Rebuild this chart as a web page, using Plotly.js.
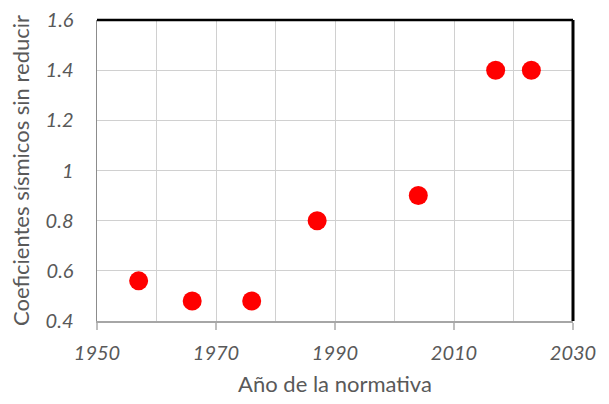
<!DOCTYPE html>
<html><head><meta charset="utf-8">
<script src="https://cdn.plot.ly/plotly-3.0.1.min.js"></script>
<style>html,body{margin:0;padding:0;background:#fff}</style>
</head><body><div id="chart" style="width:609px;height:404px"></div>
<script>
const years = [1957, 1966, 1976, 1987, 2004, 2017, 2023];
const coef = [0.56, 0.48, 0.48, 0.80, 0.90, 1.40, 1.40];
const xTickVals = [1950, 1970, 1990, 2010, 2030];
const xGridVals = [1960, 1980, 2000, 2020];
const yTickVals = [0.4, 0.6, 0.8, 1, 1.2, 1.4, 1.6];
const yTickText = ['0.4', '0.6', '0.8', '1', '1.2', '1.4', '1.6'];
const xTitle = 'Año de la normativa';
const yTitle = 'Coeficientes sísmicos sin reducir';

const fontFam = 'Lato, "Open Sans", sans-serif';
const gray = '#595959';

Plotly.newPlot('chart', [{
  x: years, y: coef, type: 'scatter', mode: 'markers',
  marker: {color: '#ff0000', size: 19}
}], {
  width: 609, height: 404,
  margin: {l: 97, r: 36, t: 20, b: 83},
  paper_bgcolor: '#fff', plot_bgcolor: '#fff',
  showlegend: false,
  font: {family: fontFam, color: gray},
  xaxis: {
    range: [1950, 2030], tickvals: xTickVals, ticktext: xTickVals.map(String),
    tickfont: {family: fontFam, size: 20, color: gray, style: 'italic'},
    showgrid: true, gridcolor: '#d0d0d0', gridwidth: 1, zeroline: false,
    minor: {tickvals: xGridVals, showgrid: true, gridcolor: '#d0d0d0', gridwidth: 1, ticks: ''},
    showline: true, linecolor: '#a6a6a6', linewidth: 2,
    ticks: 'outside', ticklen: 7, tickcolor: '#bfbfbf', tickwidth: 1.5,
    ticklabelstandoff: 6,
    title: {text: xTitle, font: {family: fontFam, size: 22, color: gray}, standoff: 14}
  },
  yaxis: {
    range: [0.4, 1.6], tickvals: yTickVals, ticktext: yTickText,
    tickfont: {family: fontFam, size: 20, color: gray, style: 'italic'},
    showgrid: true, gridcolor: '#d0d0d0', gridwidth: 1, zeroline: false,
    showline: true, linecolor: '#8c8c8c', linewidth: 1.5,
    ticks: '', ticklabelstandoff: 18,
    title: {text: yTitle, font: {family: fontFam, size: 22, color: gray}, standoff: 10}
  },
  shapes: [
    {type: 'line', xref: 'paper', yref: 'paper', x0: 0, x1: 1, y0: 1, y1: 1, line: {color: '#000', width: 2.5}},
    {type: 'line', xref: 'paper', yref: 'paper', x0: 1, x1: 1, y0: 0, y1: 1, line: {color: '#000', width: 3}}
  ]
}, {displayModeBar: false, staticPlot: true});
</script></body></html>
